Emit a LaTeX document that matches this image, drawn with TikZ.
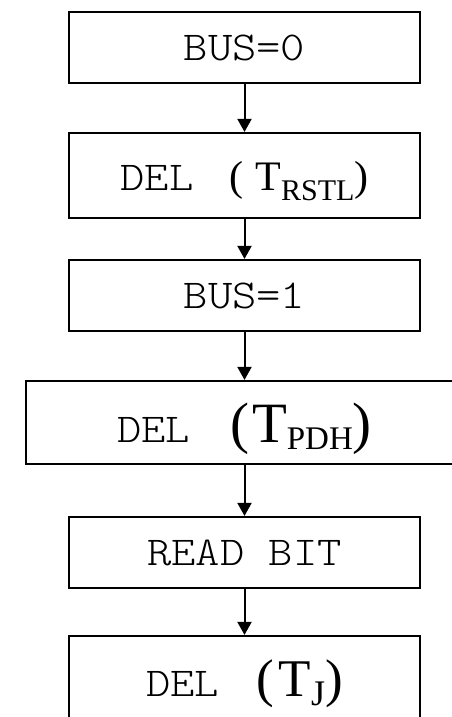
\documentclass[tikz,border=0pt]{standalone}
\usepackage{fontspec}
\usepackage{graphicx}
\usetikzlibrary{arrows.meta}
\newfontfamily\serifrm{Liberation Serif}
\newfontfamily\monott{lmmonolt10-regular.otf}[FakeStretch=1.13]
\newcommand{\tsz}[1]{\serifrm\fontsize{#1bp}{#1bp}\selectfont}
\newcommand{\msz}{\monott\fontsize{41bp}{41bp}\selectfont}
\tikzset{
  stepbox/.style={draw, line width=2.2bp, rectangle, inner sep=0pt,
    minimum width=351bp, minimum height=71bp, text depth=0pt},
  flowarrow/.style={line width=2bp, -{Triangle[width=14bp,length=13bp]}}
}
\begin{document}
\begin{tikzpicture}[x=1bp,y=-1bp]
\fill[white] (0,0) rectangle (452,717);
\useasboundingbox (0,0) rectangle (452,717);
\clip (0,0) rectangle (452,717);
\node[stepbox] (b1) at (244.5,47.5) {\msz BUS=0};
\node[stepbox, minimum height=85bp] (b2) at (244.5,175.5)
  {{\msz DEL}\hspace{36bp}{\tsz{42}(}\hspace{12bp}{\tsz{42}T}\raisebox{-10bp}{\tsz{30}RSTL}{\tsz{42})}};
\node[stepbox] (b3) at (244.5,295.5) {\msz BUS=1};
\node[stepbox, minimum width=437bp, minimum height=83bp] (b4) at (244.5,422.5)
  {{\msz DEL}\hspace{40bp}{\tsz{57}(}\hspace{3bp}{\tsz{57}T}\raisebox{-7bp}{\tsz{33}PDH}{\tsz{57})}};
\node[stepbox] (b5) at (244.5,552.5) {\msz READ BIT};
\node[stepbox, minimum height=85bp] (b6) at (244.5,678.5)
  {{\msz DEL}\hspace{37bp}{\tsz{53}(}\hspace{5bp}{\tsz{53}T}\raisebox{-9bp}{\tsz{36}J}{\tsz{53})}};
\draw[flowarrow] (b1) -- (b2);
\draw[flowarrow] (b2) -- (b3);
\draw[flowarrow] (b3) -- (b4);
\draw[flowarrow] (b4) -- (b5);
\draw[flowarrow] (b5) -- (b6);
\end{tikzpicture}
\end{document}
